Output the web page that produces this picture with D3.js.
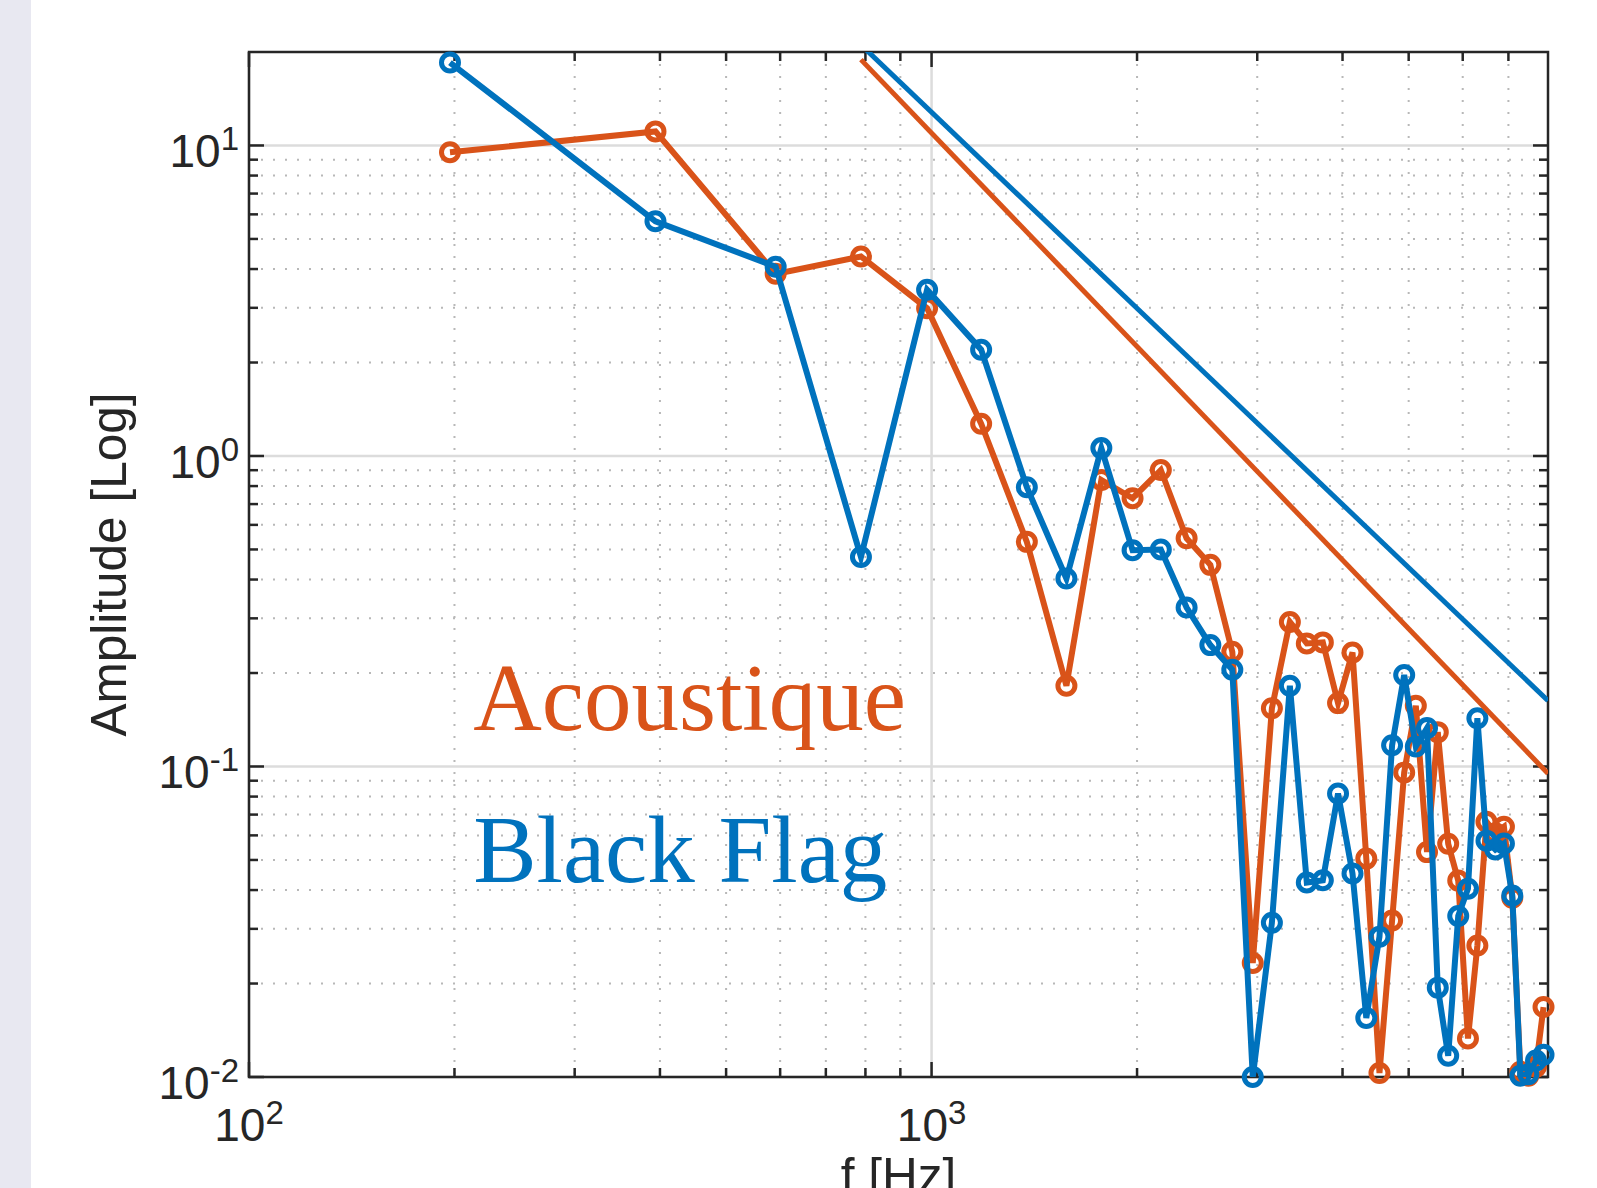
<!DOCTYPE html>
<html>
<head>
<meta charset="utf-8">
<script src="https://cdn.jsdelivr.net/npm/d3@7"></script>
<style>
body{margin:0;background:#ffffff;overflow:hidden;}
</style>
</head>
<body>
<div id="chartdiv"></div>
<script>
var svgW=1597,svgH=1188;
var margin={left:249,top:52,right:49,bottom:111};

// x values (Hz), one per harmonic
var freqs=[197,394,591,788,985,1182,1379,1576,1773,1970,2167,2364,2561,2758,2955,3152,3349,3546,3743,3940,
    4137,4334,4531,4728,4925,5122,5319,5516,5713,5910,6107,6304,6501,6698,6895,7092,7289,7486,7683,7880];
var acoustique=[9.51,11.1,3.86,4.39,2.99,1.27,0.529,0.182,0.837,0.731,0.901,0.543,0.446,0.234,0.0233,0.154,0.292,0.249,0.251,0.160,
    0.233,0.0505,0.0103,0.0319,0.0957,0.157,0.053,0.129,0.0564,0.0429,0.0133,0.0265,0.0664,0.061,0.064,0.0378,0.0104,0.0101,0.0108,0.0168];
var blackflag=[18.5,5.70,4.07,0.473,3.43,2.20,0.793,0.403,1.06,0.497,0.50,0.325,0.246,0.205,0.0100,0.0314,0.182,0.0423,0.0430,0.0818,
    0.0452,0.0155,0.0283,0.117,0.197,0.116,0.133,0.0194,0.0117,0.0330,0.0404,0.143,0.0577,0.0540,0.0565,0.0384,0.0101,0.0102,0.0113,0.0118];
// power law guides
var fitfreqs=[788,8000];
var fitacoustique=[18.9,0.0949];
var fitblackflag=[21.1,0.163];

var xdomain=[100,8000],ydomain=[0.01,20];
var xmajor=[100,1000],xmajorexp=["2","3"];
var ymajor=[0.01,0.1,1,10],ymajorexp=["-2","-1","0","1"];
var labels=[["Acoustique",213,0.131],["Black Flag",213,0.0425]];

var colorblue="#0072bd",colororange="#d95319",axiscolor="#262626";

var w=svgW-margin.left-margin.right,h=svgH-margin.top-margin.bottom;

var svg=d3.select("#chartdiv").append("svg")
    .attr("width",svgW).attr("height",svgH);

svg.append("rect").attr("x",0).attr("y",0).attr("width",svgW).attr("height",svgH).attr("fill","#ffffff");
svg.append("rect").attr("x",0).attr("y",0).attr("width",31).attr("height",svgH).attr("fill","#e8e8f1");

var x=d3.scaleLog().domain(xdomain).range([margin.left,margin.left+w]);
var y=d3.scaleLog().domain(ydomain).range([margin.top+h,margin.top]);

svg.append("clipPath").attr("id","plotclip").append("rect")
    .attr("x",margin.left).attr("y",margin.top).attr("width",w).attr("height",h);

var xminor=x.ticks().filter(function(d){return xmajor.indexOf(d)<0 && d>xdomain[0] && d<xdomain[1];});
var yminor=y.ticks().filter(function(d){return ymajor.indexOf(d)<0 && d>ydomain[0] && d<ydomain[1];});

//---------- grid
var gridg=svg.append("g").attr("id","gridg");
gridg.selectAll(".xminor").data(xminor).enter().append("line")
    .attr("x1",function(d){return x(d);}).attr("x2",function(d){return x(d);})
    .attr("y1",margin.top).attr("y2",margin.top+h)
    .attr("stroke","#b8b8b8").attr("stroke-width",2).attr("stroke-dasharray","2,10");
gridg.selectAll(".yminor").data(yminor).enter().append("line")
    .attr("x1",margin.left).attr("x2",margin.left+w)
    .attr("y1",function(d){return y(d);}).attr("y2",function(d){return y(d);})
    .attr("stroke","#b8b8b8").attr("stroke-width",2).attr("stroke-dasharray","2,10");
gridg.selectAll(".xmajor").data(xmajor).enter().append("line")
    .attr("x1",function(d){return x(d);}).attr("x2",function(d){return x(d);})
    .attr("y1",margin.top).attr("y2",margin.top+h)
    .attr("stroke","#dcdcdc").attr("stroke-width",2.5);
gridg.selectAll(".ymajor").data(ymajor).enter().append("line")
    .attr("x1",margin.left).attr("x2",margin.left+w)
    .attr("y1",function(d){return y(d);}).attr("y2",function(d){return y(d);})
    .attr("stroke","#dcdcdc").attr("stroke-width",2.5);

//---------- axes (ticks inward on all four sides)
var axisg=svg.append("g").attr("id","axisg");
function drawticks(vals,len,isx){
    vals.forEach(function(d){
        if(isx){
            axisg.append("line").attr("x1",x(d)).attr("x2",x(d)).attr("y1",margin.top+h).attr("y2",margin.top+h-len)
                .attr("stroke",axiscolor).attr("stroke-width",2.5);
            axisg.append("line").attr("x1",x(d)).attr("x2",x(d)).attr("y1",margin.top).attr("y2",margin.top+len)
                .attr("stroke",axiscolor).attr("stroke-width",2.5);
        }else{
            axisg.append("line").attr("x1",margin.left).attr("x2",margin.left+len).attr("y1",y(d)).attr("y2",y(d))
                .attr("stroke",axiscolor).attr("stroke-width",2.5);
            axisg.append("line").attr("x1",margin.left+w).attr("x2",margin.left+w-len).attr("y1",y(d)).attr("y2",y(d))
                .attr("stroke",axiscolor).attr("stroke-width",2.5);
        }
    });
}
drawticks(xminor,9,true);
drawticks(xmajor,15,true);
drawticks(yminor,9,false);
drawticks(ymajor,15,false);

axisg.append("rect").attr("x",margin.left).attr("y",margin.top).attr("width",w).attr("height",h)
    .attr("fill","none").attr("stroke",axiscolor).attr("stroke-width",2.5);

var xlab=axisg.selectAll(".xlab").data(xmajor).enter().append("text")
    .attr("x",function(d){return x(d);}).attr("y",margin.top+h+64)
    .attr("text-anchor","middle").style("font-family","Liberation Sans, Arial, sans-serif")
    .style("font-size","46px").attr("fill",axiscolor);
xlab.append("tspan").text("10");
xlab.append("tspan").attr("dy",-17).style("font-size","33px").text(function(d,i){return xmajorexp[i];});

var ylab=axisg.selectAll(".ylab").data(ymajor).enter().append("text")
    .attr("x",margin.left-10).attr("y",function(d){return y(d)+22;})
    .attr("text-anchor","end").style("font-family","Liberation Sans, Arial, sans-serif")
    .style("font-size","46px").attr("fill",axiscolor);
ylab.append("tspan").text("10");
ylab.append("tspan").attr("dy",-17).style("font-size","33px").text(function(d,i){return ymajorexp[i];});

svg.append("text").attr("transform","translate(126,"+(margin.top+h/2)+") rotate(-90)")
    .attr("text-anchor","middle").style("font-family","Liberation Sans, Arial, sans-serif")
    .style("font-size","49.5px").attr("fill",axiscolor).text("Amplitude [Log]");
svg.append("text").attr("x",margin.left+w/2).attr("y",1193)
    .attr("text-anchor","middle").style("font-family","Liberation Sans, Arial, sans-serif")
    .style("font-size","49.5px").attr("fill",axiscolor).text("f [Hz]");

//---------- data
var line=d3.line().x(function(d){return x(d[0]);}).y(function(d){return y(d[1]);});
var datag=svg.append("g").attr("id","datag");
function drawseries(vals,color){
    var pts=freqs.map(function(f,i){return [f,vals[i]];});
    datag.append("path").datum(pts).attr("d",line).attr("clip-path","url(#plotclip)")
        .attr("fill","none").attr("stroke",color).attr("stroke-width",6).attr("stroke-linejoin","miter");
    datag.append("g").selectAll("circle").data(pts.filter(function(d){return d[1]>=ydomain[0]&&d[1]<=ydomain[1];}))
        .enter().append("circle")
        .attr("cx",function(d){return x(d[0]);}).attr("cy",function(d){return y(d[1]);})
        .attr("r",8.5).attr("fill","none").attr("stroke",color).attr("stroke-width",5);
}
drawseries(acoustique,colororange);
drawseries(blackflag,colorblue);

function drawfit(vals,color){
    var pts=fitfreqs.map(function(f,i){return [f,vals[i]];});
    datag.append("path").datum(pts).attr("d",line).attr("clip-path","url(#plotclip)")
        .attr("fill","none").attr("stroke",color).attr("stroke-width",5);
}
drawfit(fitacoustique,colororange);
drawfit(fitblackflag,colorblue);

svg.append("g").selectAll("text").data(labels).enter().append("text")
    .attr("x",function(d){return x(d[1]);}).attr("y",function(d){return y(d[2]);})
    .style("font-family","Liberation Serif, Times New Roman, serif").style("font-size","95px")
    .attr("fill",function(d,i){return i==0?colororange:colorblue;})
    .text(function(d){return d[0];});
</script>
</body>
</html>
